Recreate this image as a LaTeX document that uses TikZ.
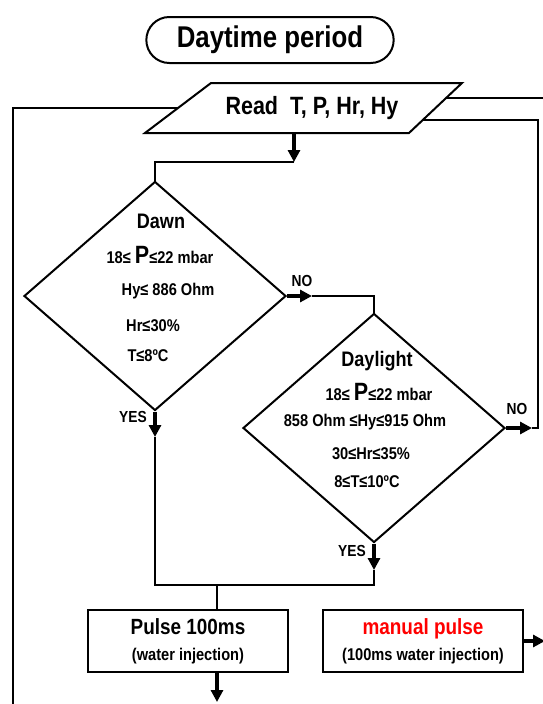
\documentclass[tikz,border=0pt]{standalone}
\usepackage{fontspec}
\setmainfont{Liberation Sans}[FakeStretch=0.86]
\usetikzlibrary{shapes.geometric,shapes.misc,arrows.meta}
\tikzset{
  flow/.style={line width=2pt},
  bigarrow/.style={line width=4.5pt, -{Triangle[length=12pt,width=12pt]}},
  cond/.style={diamond, draw, line width=2pt, minimum width=262pt, minimum height=229pt, inner sep=0pt},
  procbox/.style={rectangle, draw, line width=2pt, minimum width=200pt, minimum height=62pt, align=center, inner sep=0pt, font=\bfseries\fontsize{17}{26}\selectfont},
  lbl/.style={font=\bfseries\fontsize{16}{18}\selectfont},
  cline/.style={font=\bfseries\fontsize{17}{19}\selectfont},
  cname/.style={font=\bfseries\fontsize{21}{23}\selectfont},
}
\newcommand{\bigP}{{\fontsize{25}{25}\selectfont P}}
\begin{document}
\begin{tikzpicture}[x=1pt, y=-1pt, flow]
  \useasboundingbox (0,0) rectangle (543,704);
  \clip (0,0) rectangle (543,704);
  \node[rounded rectangle, draw, line width=2pt, minimum width=254pt, minimum height=46pt, font=\bfseries\fontsize{30}{34}\selectfont] (start) at (270,40) {Daytime period};
  % input box drawn by hand, text placed on it
  \draw (211,83) -- (462,83) -- (409,133) -- (145,133) -- cycle;
  \node[font=\bfseries\fontsize{25}{28}\selectfont] (read) at (312,108) {Read\ \ T, P, Hr, Hy};
  \coordinate (inL) at (178,108); \coordinate (inR1) at (446,98); \coordinate (inR2) at (423,120);
  \coordinate (loopin) at (13,710); \coordinate (loopout) at (550,98);
  \node[cond] (dawn) at (155,296) {};
  \node[cond] (daylight) at (374,428) {};
  \node[procbox] (pulse) at (188,641) {{\fontsize{22}{26}\selectfont Pulse 100ms}\\(water injection)};
  \node[procbox] (manual) at (423,641) {{\fontsize{22}{26}\selectfont\color{red} manual pulse}\\(100ms water injection)};
  % conditions
  \node[cname] (dawnname) at (161,221) {Dawn};
  \node[cline] (dawnp) at (160,255) {18≤ \bigP≤22 mbar};
  \node[cline] (dawnhy) at (168,291) {Hy≤ 886 Ohm};
  \node[cline] (dawnhr) at (153,326) {Hr≤30\%};
  \node[cline] (dawnt) at (148,356) {T≤8ºC};
  \node[cname] (dayname) at (377,361) {Daylight};
  \node[cline] (dayp) at (379,392) {18≤ \bigP≤22 mbar};
  \node[cline] (dayhy) at (365,422) {858 Ohm ≤Hy≤915 Ohm};
  \node[cline] (dayhr) at (371,454) {30≤Hr≤35\%};
  \node[cline] (dayt) at (367,482) {8≤T≤10ºC};
  % connectors
  \coordinate (readout) at (294,133); \coordinate (bend1) at (294,162);
  \draw[bigarrow] (readout) -- (bend1);
  \draw (bend1) -| (dawn.north);
  \coordinate (dno) at (312,296);
  \draw[bigarrow] (dawn.east) -- (dno);
  \draw (dno) -| (daylight.north);
  \coordinate (lno) at (532,428);
  \draw[bigarrow] (daylight.east) -- (lno);
  \draw (lno) -- (538,428) |- (inR2);
  \draw (loopin) |- (inL);
  \draw (inR1) -- (loopout);
  \coordinate (dyes) at (155,437); \coordinate (lyes) at (374,570); \coordinate (merge) at (217,585);
  \draw[bigarrow] (dawn.south) -- (dyes);
  \draw[bigarrow] (daylight.south) -- (lyes);
  \draw (dyes) |- (merge -| lyes) -- (lyes);
  \draw (merge) -- (merge |- pulse.north);
  \coordinate (pout) at (217,702);
  \draw[bigarrow] (merge |- pulse.south) -- (pout);
  \coordinate (mout) at (545,641);
  \draw[bigarrow] (manual.east) -- (mout);
  \node[lbl] (noA) at (302,281) {NO};
  \node[lbl] (noB) at (517,409) {NO};
  \node[lbl] (yesA) at (133,417) {YES};
  \node[lbl] (yesB) at (352,551) {YES};
\end{tikzpicture}
\end{document}
